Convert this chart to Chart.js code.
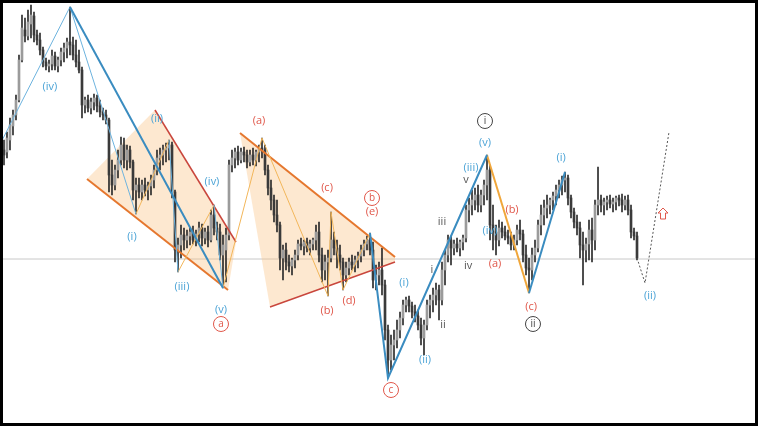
<!DOCTYPE html>
<html>
<head>
  <title>Wave count</title>
  <script src="https://cdn.jsdelivr.net/npm/chart.js"></script>
  <style>
    body { margin: 0; background: #fff; }
    #frame { width: 758px; height: 426px; border: 3px solid #000; box-sizing: border-box; }
    canvas { display: block; }
  </style>
</head>
<body>
<div id="frame"><canvas id="myChart" width="752" height="420"></canvas></div>
<script>
  // candles, price in points
  const openPrices = [
    273,271,283,297,308,323,363,393,387,399, 407,388,383,373,361,357,359,367,357,363,
    371,375,381,378,368,361,353,318,323,315, 321,325,317,311,308,303,248,238,253,263,
    278,263,273,261,233,238,231,238,233,237, 243,253,265,268,273,275,278,231,173,178,
    188,183,187,191,183,189,195,185,191,183, 208,195,191,168,173,188,258,265,271,263,
    271,268,261,268,263,271,275,273,253,235, 223,208,198,165,173,161,157,163,168,179,
    177,181,175,179,183,191,168,153,161,165, 183,175,168,161,148,155,161,158,163,167,
    173,179,183,173,143,148,153,138,93,63, 78,83,93,105,118,123,117,111,107,98,
    85,98,118,123,128,133,123,153,168,183, 175,179,175,181,185,213,218,223,228,218,
    228,238,253,198,191,183,195,191,187,185, 178,183,193,189,168,155,153,168,175,198,
    208,215,218,223,227,233,238,243,245,225, 211,201,195,178,173,179,193,183,218,223,
    218,221,223,219,221,225,223,218,223,213, 191,187
  ];
  const highPrices = [
    283,291,305,313,328,368,408,405,413,418, 411,393,390,376,365,363,373,371,366,375,
    380,385,416,386,383,373,356,326,328,325, 329,328,323,315,313,305,263,258,273,286,
    285,278,277,263,245,245,243,245,241,248, 258,273,275,278,280,283,281,233,185,198,
    195,193,195,197,193,201,199,195,197,213, 218,201,199,188,195,263,273,275,277,275,
    276,273,273,275,273,278,285,278,258,243, 228,223,201,178,180,168,165,173,183,185,
    183,185,183,185,198,201,175,168,173,211, 191,183,178,165,161,165,168,167,171,178,
    183,187,190,181,158,161,175,143,98,88, 93,103,111,123,126,127,121,118,113,105,
    103,123,128,135,140,138,161,173,188,187, 183,185,183,188,218,225,233,235,238,233,
    243,268,258,218,198,203,201,197,193,191, 188,198,203,193,178,165,175,183,203,218,
    223,228,225,231,238,243,247,251,248,228, 215,208,201,191,185,203,205,223,256,228,
    225,227,228,225,227,228,229,227,228,218, 195,191
  ];
  const lowPrices = [
    258,265,273,288,303,321,361,381,383,385, 381,378,368,356,353,351,353,353,351,357,
    361,365,368,363,356,350,305,310,311,309, 313,311,306,303,299,231,228,233,245,258,
    255,253,255,223,209,225,223,227,223,228, 235,248,253,258,261,263,225,161,151,165,
    173,175,178,179,177,181,177,179,176,181, 188,183,163,135,141,183,251,255,258,260,
    261,255,257,258,257,261,265,248,228,213, 201,191,153,143,153,151,148,155,163,173,
    168,171,168,173,173,161,141,143,127,161, 168,155,153,133,141,148,153,151,155,161,
    167,173,168,135,133,138,128,83,45,53, 63,75,85,98,111,111,105,101,93,78,
    68,93,105,111,118,103,118,138,161,158, 168,171,167,173,181,201,208,213,211,211,
    218,223,183,173,168,177,185,183,179,173, 173,178,183,161,148,130,143,161,171,188,
    198,205,209,213,218,225,228,231,218,205, 195,188,165,138,161,163,161,173,208,211,
    208,213,215,211,213,217,211,213,208,185, 183,163
  ];
  const closePrices = [
    268,285,298,308,323,363,395,387,401,408, 388,383,373,361,357,359,367,357,363,371,
    375,381,378,368,361,353,318,323,315,321, 325,317,311,308,303,248,238,253,263,278,
    263,273,261,233,238,231,238,233,237,243, 253,265,268,273,275,278,231,173,178,188,
    183,187,191,183,189,195,185,191,183,208, 195,191,168,178,188,258,265,271,263,271,
    268,261,268,263,271,275,273,253,235,223, 208,198,165,173,161,157,163,168,179,177,
    181,175,179,183,191,168,153,161,165,183, 175,168,161,148,155,161,158,163,167,173,
    179,183,173,143,148,153,138,93,63,78, 83,93,105,118,123,117,111,107,98,85,
    98,118,123,128,133,123,153,168,183,175, 179,175,181,185,213,218,223,228,218,228,
    238,253,198,191,183,195,191,187,185,178, 183,193,189,168,155,153,168,175,198,208,
    215,218,223,227,233,238,243,245,225,211, 201,195,178,173,179,193,183,218,223,218,
    221,223,219,221,225,223,218,223,213,191, 187,165
  ];
  const levelPrice = 164;

  // wave legs: [bar, price]
  const thickBlueLegs = [
    [[22,416],[73,135]],
    [[122,190],[128,45],[161,268]],
    [[175,130],[187,251]]
  ];
  const thinBlueLegs = [
    [[-4.67,259],[22,416]],
    [[22,416],[44,209]],
    [[55,283],[58,151]],
    [[70,218],[73,135]]
  ];
  const thinOrangeLegs = [
    [[44,209],[55,283]],
    [[58,151],[70,218]],
    [[73,135],[86,285],[108,127],[109,211],[113,133],[122,190]]
  ];
  const thickOrangeLeg = [[161,268],[175,130]];
  const projection = [[211,165],[213.67,140],[221.67,291]];

  // channels
  const channel1Lower = [[27.67,244],[74.67,133]];
  const channel1Upper = [[50.33,313],[77.33,181]];
  const channel2Upper = [[78.67,290],[130.33,166]];
  const channel2Lower = [[88.67,116],[130.33,161]];
  const shade1Top = [[27.67,244],[50.33,313],[77.33,181]];
  const shade1Bottom = [[27.67,244],[74.67,133],[77.33,181]];
  const shade2Top = [[78.67,290],[130.33,166]];
  const shade2Bottom = [[78.67,290],[88.67,116],[130.33,161]];

  // labels: [bar, price, text, style]
  const labelNotes = [
    [15.33,336,'(iv)','blue'], [-2.67,221,'(v)','blue'],
    [51,304,'(ii)','blue'], [42.67,186,'(i)','blue'], [69.33,241,'(iv)','blue'],
    [59.33,136,'(iii)','blue'], [72.33,113,'(v)','blue'], [72.33,99,'a','redRing'],
    [85,302,'(a)','red'], [107.67,235,'(c)','red'], [122.67,225,'b','redRing'],
    [122.67,211,'(e)','red'], [107.67,112,'(b)','red'], [115,122,'(d)','red'],
    [133.33,140,'(i)','blue'], [140.33,63,'(ii)','blue'], [129,33,'c','redRing'],
    [142.67,153,'i','grey'], [146.33,98,'ii','grey'], [146,201,'iii','grey'],
    [154.67,157,'iv','grey'], [154,243,'v','grey'],
    [155.67,255,'(iii)','blue'], [160.33,280,'(v)','blue'], [160.33,302,'i','darkRing'],
    [162,192,'(iv)','blue'], [163.67,159,'(a)','red'], [169.33,213,'(b)','red'],
    [175.67,116,'(c)','red'], [176.33,99,'ii','darkRing'],
    [185.67,265,'(i)','blue'], [215.33,127,'(ii)','blue']
  ];
  const arrowAt = [219.67,209];

  const colours = {
    blue: '#4ba3d6', red: '#e0574a', grey: '#555555',
    redRing: '#e0574a', darkRing: '#444444'
  };

  function pts(list) {
    return list.map(p => ({x: p[0], y: p[1]}));
  }

  function pathSet(list, colour, width, extra) {
    return Object.assign({
      type: 'line',
      data: pts(list),
      borderColor: colour,
      borderWidth: width,
      pointRadius: 0,
      fill: false,
      tension: 0,
      order: 1
    }, extra || {});
  }

  const bars = openPrices.map((_, i) => i);
  const wickData = bars.map(i => ({x: i, y: [lowPrices[i], highPrices[i]]}));
  const bodyData = bars.map(i => ({x: i, y: [openPrices[i], closePrices[i]]}));
  const bodyColours = bars.map(i => closePrices[i] >= openPrices[i] ? '#9b9b9b' : '#3a3a3a');

  const datasets = [];
  thickBlueLegs.forEach(l => datasets.push(pathSet(l, '#3a8cc0', 2)));
  datasets.push(pathSet(thickOrangeLeg, '#f0a63a', 2));
  thinBlueLegs.forEach(l => datasets.push(pathSet(l, '#6db3de', 1)));
  thinOrangeLegs.forEach(l => datasets.push(pathSet(l, '#f2b65a', 1)));
  datasets.push(pathSet(projection, '#555555', 1, {borderDash: [2, 2]}));
  datasets.push(pathSet(channel1Lower, '#e5772e', 2));
  datasets.push(pathSet(channel1Upper, '#c9463c', 1.5));
  datasets.push(pathSet(channel2Upper, '#e5772e', 2));
  datasets.push(pathSet(channel2Lower, '#c9463c', 1.5));

  datasets.push({
    type: 'bar', data: bodyData, backgroundColor: bodyColours,
    barThickness: 2, grouped: false, order: 2
  });
  datasets.push({
    type: 'bar', data: wickData, backgroundColor: '#2b2b2b',
    barThickness: 1, grouped: false, order: 2
  });

  datasets.push(pathSet(shade1Top, 'rgba(0,0,0,0)', 0,
    {fill: '+1', backgroundColor: 'rgba(250,190,120,0.35)', order: 3}));
  datasets.push(pathSet(shade1Bottom, 'rgba(0,0,0,0)', 0, {order: 3}));
  datasets.push(pathSet(shade2Top, 'rgba(0,0,0,0)', 0,
    {fill: '+1', backgroundColor: 'rgba(250,190,120,0.35)', order: 3}));
  datasets.push(pathSet(shade2Bottom, 'rgba(0,0,0,0)', 0, {order: 3}));
  datasets.push(pathSet([[-1, levelPrice], [252, levelPrice]], '#c8c8c8', 1, {order: 4}));

  const waveLabels = {
    id: 'waveLabels',
    afterDatasetsDraw(chart) {
      const ctx = chart.ctx;
      const xs = chart.scales.x, ys = chart.scales.y;
      ctx.save();
      ctx.textAlign = 'center';
      ctx.textBaseline = 'middle';
      labelNotes.forEach(n => {
        const px = xs.getPixelForValue(n[0]);
        const py = ys.getPixelForValue(n[1]);
        ctx.fillStyle = colours[n[3]];
        ctx.strokeStyle = colours[n[3]];
        if (n[3].indexOf('Ring') > 0) {
          ctx.lineWidth = 1;
          ctx.beginPath();
          ctx.arc(px, py, 7.5, 0, Math.PI * 2);
          ctx.stroke();
          ctx.font = '10px "Open Sans"';
        } else {
          ctx.font = '11px "Open Sans"';
        }
        ctx.fillText(n[2], px, py);
      });
      // up arrow
      const ax = xs.getPixelForValue(arrowAt[0]);
      const ay = ys.getPixelForValue(arrowAt[1]);
      ctx.strokeStyle = '#e0574a';
      ctx.lineWidth = 1;
      ctx.beginPath();
      ctx.moveTo(ax, ay - 6);
      ctx.lineTo(ax + 5, ay - 1);
      ctx.lineTo(ax + 2.5, ay - 1);
      ctx.lineTo(ax + 2.5, ay + 5);
      ctx.lineTo(ax - 2.5, ay + 5);
      ctx.lineTo(ax - 2.5, ay - 1);
      ctx.lineTo(ax - 5, ay - 1);
      ctx.closePath();
      ctx.stroke();
      ctx.restore();
    }
  };

  const ctx = document.getElementById('myChart').getContext('2d');
  new Chart(ctx, {
    type: 'bar',
    data: {datasets: datasets},
    options: {
      responsive: false,
      animation: false,
      layout: {padding: 0},
      plugins: {legend: {display: false}, tooltip: {enabled: false}},
      scales: {
        x: {type: 'linear', min: -0.33, max: 250.33, display: false, offset: false},
        y: {type: 'linear', min: 0, max: 420, display: false}
      }
    },
    plugins: [waveLabels]
  });
</script>
</body>
</html>
